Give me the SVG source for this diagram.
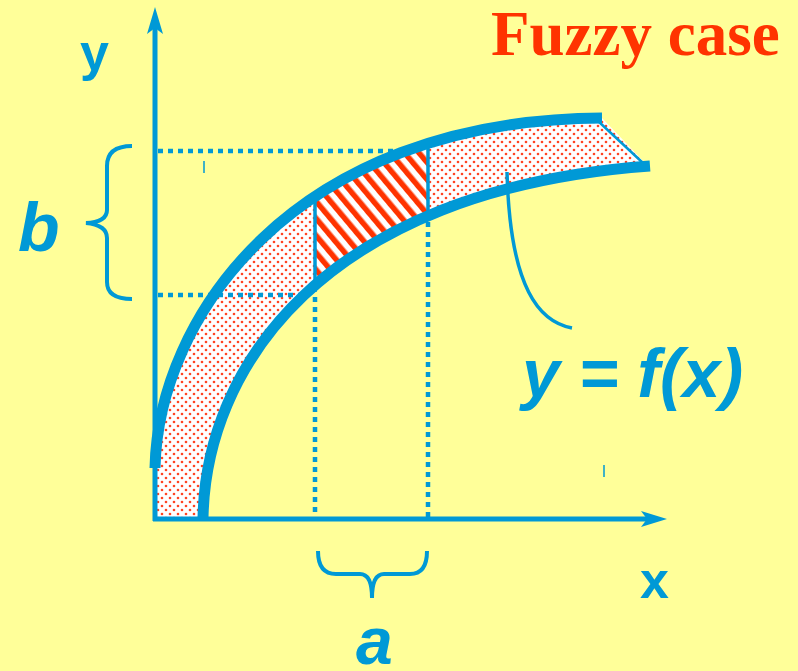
<svg xmlns="http://www.w3.org/2000/svg" width="798" height="671" viewBox="0 0 798 671">
  <style>
    .blue { stroke: #0099D6; fill: none; }
    .axis { stroke: #0099D6; stroke-width: 5; fill: none; }
    .curve { stroke: #0099D6; stroke-width: 11; fill: none; stroke-linecap: butt; }
    .dot { stroke: #0099D6; stroke-width: 4.5; stroke-dasharray: 5 5; fill: none; }
    .brace { stroke: #0099D6; stroke-width: 4; fill: none; stroke-linecap: butt; }
    .lbl { font-family: "Liberation Sans", Arial, sans-serif; font-weight: bold; fill: #0099D6; }
    .ital { font-style: italic; }
  </style>
  <defs>
    <pattern id="dots" width="8" height="8" patternUnits="userSpaceOnUse">
      <rect width="8" height="8" fill="#FFFFFF"/>
      <circle cx="2" cy="2" r="1.3" fill="#FF4422"/>
      <circle cx="6" cy="6" r="1.3" fill="#FF4422"/>
    </pattern>
    <pattern id="hatch" width="11" height="11" patternUnits="userSpaceOnUse" patternTransform="rotate(-40)">
      <rect width="11" height="11" fill="#FFFFFF"/>
      <rect width="5.5" height="11" fill="#FF3300"/>
    </pattern>
    <clipPath id="bandClip">
      <path d="M155,519 L155,468 C158,320 290,120 602,118 L648,166 C320,190 205,370 203,519 Z"/>
    </clipPath>
  </defs>

  <rect width="798" height="671" fill="#FFFF99"/>

  <g id="band">
    <path d="M155,519 L155,468 C158,320 290,120 602,118 L648,166 C320,190 205,370 203,519 Z" fill="url(#dots)"/>
    <rect x="315" y="130" width="113" height="170" fill="url(#hatch)" clip-path="url(#bandClip)"/>
    <line class="blue" x1="598" y1="121" x2="643" y2="163" stroke-width="2.5"/>
  </g>

  <g id="connectors">
    <line class="dot" x1="158" y1="151" x2="405" y2="151"/>
    <line class="dot" x1="158" y1="295" x2="305" y2="295"/>
    <line class="dot" x1="315" y1="297" x2="315" y2="517"/>
    <line class="dot" x1="428" y1="222" x2="428" y2="517"/>
    <line class="blue" x1="315" y1="198" x2="315" y2="292" stroke-width="3.5"/>
    <line class="blue" x1="428" y1="146" x2="428" y2="216" stroke-width="3.5"/>
    <path class="blue" d="M572,328 C540,322 510,290 507,172" stroke-width="3.5"/>
  </g>

  <g id="curves">
    <path class="curve" d="M155,468 C158,320 290,120 602,118"/>
    <path class="curve" d="M203,519 C205,370 320,190 650,166"/>
  </g>

  <g id="y-axis">
    <line class="axis" x1="155" y1="521" x2="155" y2="28"/>
    <polygon points="155,7 147,34 155,28 163,34" fill="#0099D6"/>
  </g>
  <g id="x-axis">
    <line class="axis" x1="153" y1="519" x2="648" y2="519"/>
    <polygon points="667,519 641,511 647,519 641,527" fill="#0099D6"/>
  </g>

  <g id="brace-b">
    <path class="brace" d="M132,146 Q107,146 107,166 L107,210 Q107,222 86,223 Q107,225 107,238 L107,282 Q107,299 132,299"/>
  </g>
  <g id="brace-a">
    <path class="brace" d="M318,551 Q318,574 336,574 L360,574 Q372,574 372,598 Q372,574 384,574 L410,574 Q427,574 427,551"/>
  </g>

  <g id="ticks">
    <line x1="204" y1="161" x2="204" y2="173" stroke="#0099D6" stroke-width="1.5"/>
    <line x1="604" y1="465" x2="604" y2="477" stroke="#0099D6" stroke-width="1.5"/>
  </g>

  <g id="labels">
    <text class="lbl" x="80" y="70" font-size="52">y</text>
    <text class="lbl" x="640" y="598" font-size="52">x</text>
    <text class="lbl ital" x="18" y="251" font-size="68">b</text>
    <text class="lbl ital" x="356" y="664" font-size="66">a</text>
    <text class="lbl ital" x="522" y="397" font-size="68">y = f(x)</text>
    <text x="491" y="55" font-family="'Liberation Serif', 'Times New Roman', serif" font-weight="bold" font-size="63" fill="#FF3300">Fuzzy case</text>
  </g>
</svg>
